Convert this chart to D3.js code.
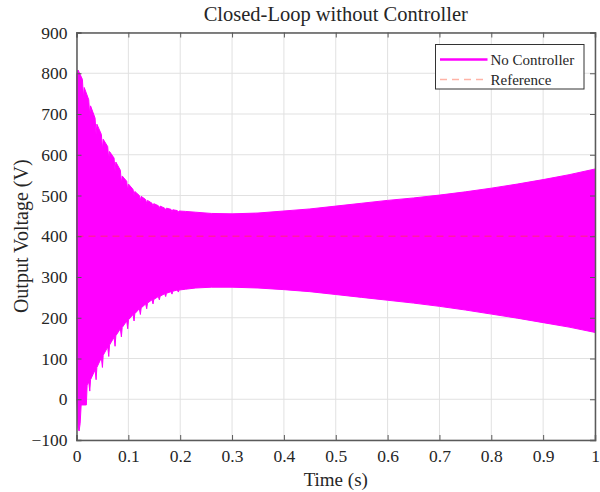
<!DOCTYPE html>
<html>
<head>
<meta charset="utf-8">
<script src="https://cdn.jsdelivr.net/npm/d3@7"></script>
<style>
  body { margin: 0; background: #fff; }
  text { font-family: "Liberation Serif", "Times New Roman", serif; fill: #262626; }
</style>
</head>
<body>
<div id="chart"></div>
<script>
// Tick values
var xTicks = [0, 0.1, 0.2, 0.3, 0.4, 0.5, 0.6, 0.7, 0.8, 0.9, 1];
var yTicks = [-100, 0, 100, 200, 300, 400, 500, 600, 700, 800, 900];

// Reference voltage (V)
var referenceVoltage = 400;

// Upper envelope of the oscillating output [time (s), voltage (V)]
var upperEnvelope = [
  [0, 795], [0.003, 808],
  [0.0114, 785], [0.0134, 740], [0.0149, 765],
  [0.0236, 735], [0.0256, 695], [0.0271, 720],
  [0.0358, 690], [0.0378, 650], [0.0393, 675],
  [0.048, 650], [0.05, 612], [0.0515, 638],
  [0.0602, 620], [0.0622, 588], [0.0637, 608],
  [0.0724, 592], [0.0744, 560], [0.0759, 582],
  [0.0846, 562], [0.0866, 530], [0.0881, 548],
  [0.0968, 535], [0.0988, 512], [0.1003, 528],
  [0.109, 515], [0.111, 500], [0.1125, 510],
  [0.1212, 500], [0.1232, 488], [0.1247, 498],
  [0.1334, 490], [0.1354, 480], [0.1369, 488],
  [0.1456, 481], [0.1476, 473], [0.1491, 480],
  [0.1578, 475], [0.1598, 468], [0.1613, 474],
  [0.17, 469], [0.172, 464], [0.1735, 469],
  [0.1822, 466], [0.1842, 461], [0.1857, 465],
  [0.1944, 463], [0.1964, 459], [0.1979, 462],
  [0.21, 461], [0.23, 459], [0.26, 456], [0.3, 455],
  [0.35, 457], [0.4, 462], [0.45, 467], [0.5, 474],
  [0.55, 481], [0.6, 488], [0.65, 494], [0.7, 501],
  [0.75, 509], [0.8, 518], [0.85, 528], [0.9, 539],
  [0.95, 551], [1, 565]
];

// Lower envelope of the oscillating output [time (s), voltage (V)]
var lowerEnvelope = [
  [0, 10], [0.003, -70], [0.005, -78], [0.007, -60],
  [0.009, -14], [0.019, -14], [0.0205, 35],
  [0.0236, 42], [0.0256, 20], [0.0271, 48],
  [0.0358, 72], [0.0378, 48], [0.0393, 78],
  [0.048, 102], [0.05, 78], [0.0515, 108],
  [0.0602, 128], [0.0622, 105], [0.0637, 133],
  [0.0724, 152], [0.0744, 130], [0.0759, 156],
  [0.0846, 173], [0.0866, 153], [0.0881, 176],
  [0.0968, 192], [0.0988, 173], [0.1003, 195],
  [0.109, 208], [0.111, 192], [0.1125, 210],
  [0.1212, 222], [0.1232, 208], [0.1247, 224],
  [0.1334, 234], [0.1354, 222], [0.1369, 236],
  [0.1456, 244], [0.1476, 234], [0.1491, 245],
  [0.1578, 252], [0.1598, 244], [0.1613, 253],
  [0.17, 259], [0.172, 252], [0.1735, 260],
  [0.1822, 264], [0.1842, 258], [0.1857, 265],
  [0.1944, 268], [0.1964, 263], [0.1979, 268],
  [0.21, 270], [0.23, 273], [0.26, 275], [0.3, 275],
  [0.35, 273], [0.4, 269], [0.45, 264], [0.5, 257],
  [0.55, 250], [0.6, 243], [0.65, 236], [0.7, 228],
  [0.75, 219], [0.8, 209], [0.85, 199], [0.9, 188],
  [0.95, 177], [1, 164]
];

var legendItems = ["No Controller", "Reference"];

// Set up the svg params
var svgWidth = 600;
var svgHeight = 492;

var margin = {
  top: 32.5,
  right: 5,
  bottom: 52,
  left: 76.5
};

var width = svgWidth - margin.left - margin.right;
var height = svgHeight - margin.top - margin.bottom;

var svg = d3.select("#chart").append("svg")
  .attr("width", svgWidth)
  .attr("height", svgHeight);

var chartGroup = svg.append("g")
  .attr("transform", `translate(${margin.left}, ${margin.top})`);

// Scales
var xScale = d3.scaleLinear().domain([0, 1]).range([0, width]);
var yScale = d3.scaleLinear().domain([-100, 900]).range([height, 0]);

// Grid lines
chartGroup.append("g")
  .selectAll("line")
  .data(xTicks)
  .enter()
  .append("line")
  .attr("x1", d => xScale(d))
  .attr("x2", d => xScale(d))
  .attr("y1", 0)
  .attr("y2", height)
  .attr("stroke", "#e1e1e1")
  .attr("stroke-width", 1);

chartGroup.append("g")
  .selectAll("line")
  .data(yTicks)
  .enter()
  .append("line")
  .attr("x1", 0)
  .attr("x2", width)
  .attr("y1", d => yScale(d))
  .attr("y2", d => yScale(d))
  .attr("stroke", "#e1e1e1")
  .attr("stroke-width", 1);

// Band between upper and lower envelopes
var bandPoints = upperEnvelope.concat(lowerEnvelope.slice().reverse());
var bandLine = d3.line()
  .x(d => xScale(d[0]))
  .y(d => yScale(d[1]));

chartGroup.append("path")
  .attr("d", bandLine(bandPoints) + "Z")
  .attr("fill", "#ff00ff")
  .attr("stroke", "#ff00ff")
  .attr("stroke-width", 1);

// Reference line
var refColor = "#ff4020";
chartGroup.append("line")
  .attr("x1", xScale(0))
  .attr("x2", xScale(1))
  .attr("y1", yScale(referenceVoltage))
  .attr("y2", yScale(referenceVoltage))
  .attr("stroke", refColor)
  .attr("stroke-opacity", 0.4)
  .attr("stroke-width", 1.5)
  .attr("stroke-dasharray", "7,5");

// Axes (ticks inside, box on all sides)
var axisColor = "#5a5a5a";
var bottomAxis = d3.axisBottom(xScale).tickValues(xTicks).tickSize(-5).tickPadding(10)
  .tickFormat(d => d === 0 || d === 1 ? d3.format("d")(d) : d3.format(".1f")(d));
var leftAxis = d3.axisLeft(yScale).tickValues(yTicks).tickSize(-5).tickPadding(9)
  .tickFormat(d3.format("d"));
var topAxis = d3.axisTop(xScale).tickValues(xTicks).tickSize(-5).tickFormat("");
var rightAxis = d3.axisRight(yScale).tickValues(yTicks).tickSize(-5).tickFormat("");

var xAxisG = chartGroup.append("g")
  .attr("transform", `translate(0, ${height})`)
  .call(bottomAxis);
var yAxisG = chartGroup.append("g").call(leftAxis);
var topG = chartGroup.append("g").call(topAxis);
var rightG = chartGroup.append("g")
  .attr("transform", `translate(${width}, 0)`)
  .call(rightAxis);

[xAxisG, yAxisG, topG, rightG].forEach(g => {
  g.select(".domain").attr("stroke", axisColor).attr("stroke-width", 1.5);
  g.selectAll(".tick line").attr("stroke", axisColor);
  g.selectAll(".tick text")
    .style("font-family", "'Liberation Serif', serif")
    .style("font-size", "17.5px")
    .attr("fill", "#262626");
});
yAxisG.selectAll(".tick text").text(d => d < 0 ? "\u2212" + Math.abs(d) : d);

// Title
svg.append("text")
  .attr("x", margin.left + width / 2)
  .attr("y", 21)
  .attr("text-anchor", "middle")
  .style("font-size", "20.5px")
  .text("Closed-Loop without Controller");

// Axis labels
svg.append("text")
  .attr("x", margin.left + width / 2)
  .attr("y", 486)
  .attr("text-anchor", "middle")
  .style("font-size", "19px")
  .text("Time (s)");

svg.append("text")
  .attr("transform", "rotate(-90)")
  .attr("x", -(margin.top + height / 2))
  .attr("y", 28)
  .attr("text-anchor", "middle")
  .style("font-size", "20px")
  .text("Output Voltage (V)");

// Legend
var legend = svg.append("g")
  .attr("transform", "translate(435.5, 44.5)");

legend.append("rect")
  .attr("width", 148.5)
  .attr("height", 44.5)
  .attr("fill", "#fff")
  .attr("stroke", "#333")
  .attr("stroke-width", 1);

legend.append("line")
  .attr("x1", 4.5).attr("x2", 52)
  .attr("y1", 15).attr("y2", 15)
  .attr("stroke", "#ff00ff")
  .attr("stroke-width", 2.5);

legend.append("line")
  .attr("x1", 4.5).attr("x2", 52)
  .attr("y1", 35).attr("y2", 35)
  .attr("stroke", refColor)
  .attr("stroke-opacity", 0.4)
  .attr("stroke-width", 1.5)
  .attr("stroke-dasharray", "7,5");

legend.selectAll(".legend-text")
  .data(legendItems)
  .enter()
  .append("text")
  .attr("class", "legend-text")
  .attr("x", 55)
  .attr("y", (d, i) => 20 + i * 20)
  .style("font-size", "15px")
  .text(d => d);
</script>
</body>
</html>
